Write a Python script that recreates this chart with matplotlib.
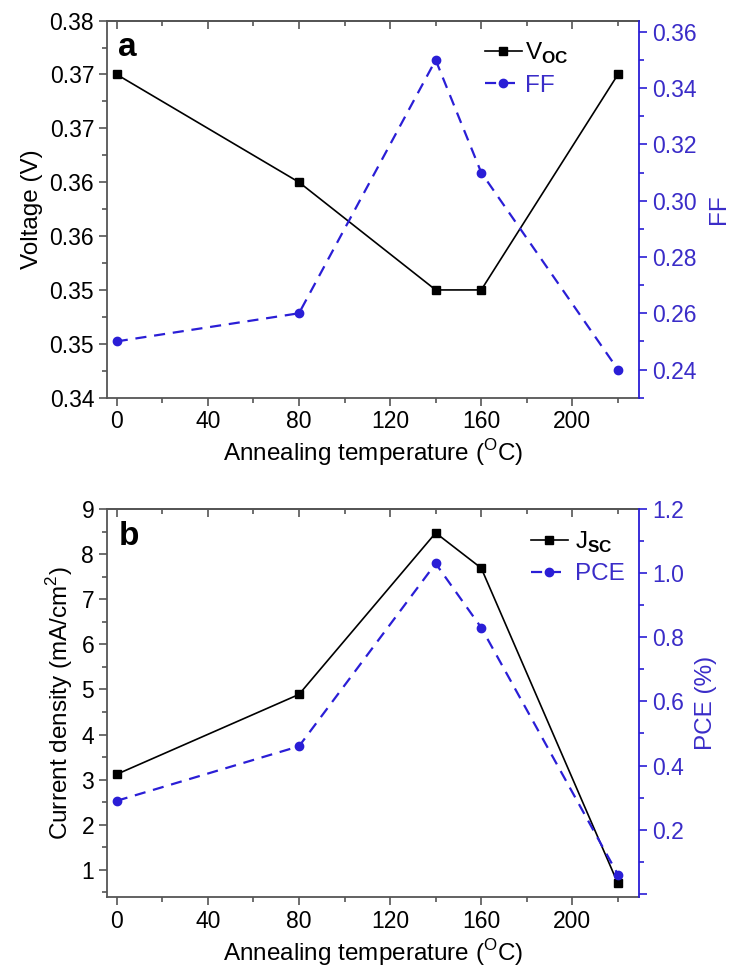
import matplotlib.pyplot as plt
from matplotlib.ticker import MultipleLocator, FixedLocator, FixedFormatter

plt.rcParams['font.family'] = ['Liberation Sans', 'DejaVu Sans']
plt.rcParams['mathtext.fontset'] = 'custom'
plt.rcParams['mathtext.rm'] = 'Liberation Sans'
plt.rcParams['mathtext.bf'] = 'Liberation Sans:bold'

# data
temp = [0, 80, 140, 160, 220]
voc = [0.370, 0.360, 0.350, 0.350, 0.370]
ff = [0.25, 0.26, 0.35, 0.31, 0.24]
jsc = [3.12, 4.89, 8.47, 7.69, 0.70]
pce = [0.29, 0.46, 1.03, 0.83, 0.06]

voc_ticks = [0.340, 0.345, 0.350, 0.355, 0.360, 0.365, 0.370, 0.375]
voc_tick_labels = ['0.34', '0.35', '0.35', '0.36', '0.36', '0.37', '0.37', '0.38']
x_ticks = [0, 40, 80, 120, 160, 200]

blue = '#2a1ed6'
blue_txt = '#3a2cc8'
gray = '#555555'
fs = 16.5
fl = 17.5

fig = plt.figure(figsize=(7.31, 9.73), dpi=100)
ax_a = fig.add_axes([0.146, 0.5913, 0.7286, 0.3875])
ax_b = fig.add_axes([0.146, 0.0781, 0.7286, 0.3988])


def style_axes(ax, ax2):
    ax.set_xlim(-4.4, 229.4)
    ax.xaxis.set_major_locator(FixedLocator(x_ticks))
    ax.xaxis.set_minor_locator(MultipleLocator(20))
    ax.tick_params(axis='both', which='both', direction='out', colors=gray,
                   labelcolor='black', labelsize=fs, width=1.2, pad=3)
    ax.tick_params(which='major', length=6)
    ax.tick_params(which='minor', length=3.5)
    for s in ['left', 'bottom', 'top']:
        ax.spines[s].set_color(gray)
        ax.spines[s].set_linewidth(1.3)
    ax.spines['right'].set_visible(False)
    top = ax.secondary_xaxis('top')
    top.xaxis.set_major_locator(FixedLocator(x_ticks))
    top.xaxis.set_minor_locator(MultipleLocator(20))
    top.tick_params(which='both', direction='in', labeltop=False, colors=gray, width=1.2)
    top.tick_params(which='major', length=6)
    top.tick_params(which='minor', length=3.5)
    top.spines['top'].set_color(gray)
    top.spines['top'].set_linewidth(1.3)
    ax2.spines['right'].set_color(blue)
    ax2.spines['right'].set_linewidth(1.3)
    for s in ['left', 'bottom', 'top']:
        ax2.spines[s].set_visible(False)
    ax2.tick_params(axis='y', which='both', direction='out', colors=blue,
                    labelcolor=blue_txt, labelsize=fs, width=1.2, pad=3)
    ax2.tick_params(which='major', length=6)
    ax2.tick_params(which='minor', length=3.5)
    ax.set_xlabel('Annealing temperature ($^\\mathregular{O}$C)', fontsize=fl, labelpad=3)


# panel a
ax_a2 = ax_a.twinx()
la, = ax_a.plot(temp, voc, color='black', lw=1.2, marker='s', ms=6)
lb, = ax_a2.plot(temp, ff, color=blue, lw=1.6, ls=(0, (5, 3.5)), marker='o', ms=6)
ax_a.set_ylim(0.340, 0.375)
ax_a.yaxis.set_major_locator(FixedLocator(voc_ticks))
ax_a.yaxis.set_major_formatter(FixedFormatter(voc_tick_labels))
ax_a.yaxis.set_minor_locator(MultipleLocator(0.0025))
ax_a2.set_ylim(0.230, 0.364)
ax_a2.yaxis.set_major_locator(MultipleLocator(0.02))
ax_a2.yaxis.set_major_formatter(lambda v, p: f'{v:.2f}')
ax_a2.yaxis.set_minor_locator(MultipleLocator(0.01))
style_axes(ax_a, ax_a2)
ax_a.set_ylabel('Voltage (V)', fontsize=fl, labelpad=5)
ax_a2.set_ylabel('FF', fontsize=fl, color=blue_txt, labelpad=8)
ax_a.text(0.022, 0.97, 'a', transform=ax_a.transAxes, fontsize=24,
          fontweight='bold', va='top')
ax_a2.legend([la, lb], [r'V$_\mathbf{OC}$', 'FF'], loc='upper right',
             frameon=False, fontsize=fl, handlelength=1.5, handletextpad=0.15,
             borderaxespad=0.2, labelspacing=0.35, bbox_to_anchor=(0.895, 0.985))
ax_a2.get_legend().get_texts()[1].set_color(blue_txt)

# panel b
ax_b2 = ax_b.twinx()
lc, = ax_b.plot(temp, jsc, color='black', lw=1.2, marker='s', ms=6)
ld, = ax_b2.plot(temp, pce, color=blue, lw=1.6, ls=(0, (5, 3.5)), marker='o', ms=6)
ax_b.set_ylim(0.4, 9.0)
ax_b.yaxis.set_major_locator(MultipleLocator(1))
ax_b.yaxis.set_minor_locator(MultipleLocator(0.5))
ax_b2.set_ylim(-0.01, 1.2)
ax_b2.yaxis.set_major_locator(MultipleLocator(0.2))
ax_b2.yaxis.set_major_formatter(lambda v, p: f'{v:.1f}' if v > 0.05 else '')
ax_b2.yaxis.set_minor_locator(MultipleLocator(0.1))
style_axes(ax_b, ax_b2)
ax_b.set_ylabel('Current density (mA/cm$^\\mathregular{2}$)', fontsize=fl, labelpad=5)
ax_b2.set_ylabel('PCE (%)', fontsize=fl, color=blue_txt, labelpad=8)
ax_b.text(0.022, 0.97, 'b', transform=ax_b.transAxes, fontsize=24,
          fontweight='bold', va='top')
ax_b2.legend([lc, ld], [r'J$_\mathbf{SC}$', 'PCE'], loc='upper right',
             frameon=False, fontsize=fl, handlelength=1.5, handletextpad=0.3,
             borderaxespad=0.2, labelspacing=0.35, bbox_to_anchor=(1.0, 0.985))
ax_b2.get_legend().get_texts()[1].set_color(blue_txt)

fig.savefig('out.png', dpi=100)
